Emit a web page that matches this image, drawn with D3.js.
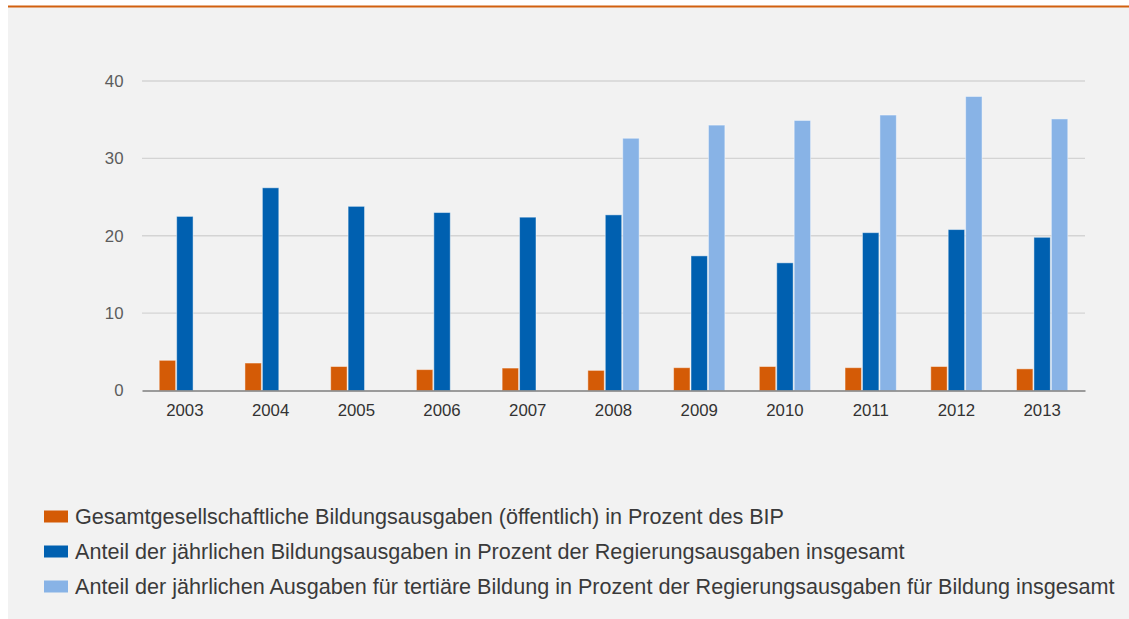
<!DOCTYPE html>
<html>
<head>
<meta charset="utf-8">
<script src="https://cdn.jsdelivr.net/npm/d3@7"></script>
<style>
  body { margin: 0; background: #fff; }
  svg { display: block; font-family: "Liberation Sans", Arial, sans-serif; }
</style>
</head>
<body>
<svg id="chart"></svg>
<script>
var years = ["2003", "2004", "2005", "2006", "2007", "2008", "2009", "2010", "2011", "2012", "2013"]
var bipShare = [3.9, 3.55, 3.1, 2.7, 2.9, 2.6, 2.95, 3.1, 2.95, 3.1, 2.8]
var govShare = [22.5, 26.2, 23.8, 23.0, 22.4, 22.7, 17.4, 16.5, 20.4, 20.8, 19.8]
var tertShare = [0, 0, 0, 0, 0, 32.6, 34.3, 34.9, 35.6, 38.0, 35.1]
var yTicks = [0, 10, 20, 30, 40]
var seriesNames = [
  "Gesamtgesellschaftliche Bildungsausgaben (öffentlich) in Prozent des BIP",
  "Anteil der jährlichen Bildungsausgaben in Prozent der Regierungsausgaben insgesamt",
  "Anteil der jährlichen Ausgaben für tertiäre Bildung in Prozent der Regierungsausgaben für Bildung insgesamt"
]
var colors = ["#d45b06", "#0060b0", "#88b3e6"]

var width = 1129, height = 619
var svg = d3.select("#chart").attr("width", width).attr("height", height)

// panel background + orange top rule
svg.append("rect").attr("x", 8).attr("y", 7).attr("width", width - 8).attr("height", height - 7).attr("fill", "#f2f2f2")
svg.append("rect").attr("x", 8).attr("y", 5.5).attr("width", width - 8).attr("height", 2).attr("fill", "#d2600f")

var plot = { left: 142, right: 1085, top: 81, bottom: 390.5 }

var x = d3.scaleBand().domain(years).range([plot.left, plot.right]).paddingInner(0.39).paddingOuter(0.195)
var keys = ["bip", "gov", "tert"]
var x1 = d3.scaleBand().domain(keys).range([0, x.bandwidth()])
var y = d3.scaleLinear().domain([0, 40]).range([plot.bottom, plot.top])

// gridlines
svg.append("g")
  .selectAll("line")
  .data(yTicks.filter(function(d) { return d > 0 }))
  .enter()
  .append("line")
  .attr("x1", plot.left).attr("x2", plot.right)
  .attr("y1", function(d) { return y(d) }).attr("y2", function(d) { return y(d) })
  .attr("stroke", "#d4d4d4").attr("stroke-width", 1.3)

// y axis labels
var yAxis = svg.append("g")
  .attr("transform", "translate(" + plot.left + ",0)")
  .call(d3.axisLeft(y).tickValues(yTicks).tickSize(0).tickPadding(18.5))
yAxis.select(".domain").remove()
yAxis.selectAll("text").attr("font-size", 16.8).attr("fill", "#5c5c5c").attr("font-family", "Liberation Sans, Arial, sans-serif")

var rows = years.map(function(yr, i) {
  return { year: yr, values: [
    { key: "bip", value: bipShare[i], color: colors[0] },
    { key: "gov", value: govShare[i], color: colors[1] },
    { key: "tert", value: tertShare[i], color: colors[2] }
  ] }
})

svg.append("g")
  .selectAll("g")
  .data(rows)
  .enter()
  .append("g")
  .attr("transform", function(d) { return "translate(" + x(d.year) + ",0)" })
  .selectAll("rect")
  .data(function(d) { return d.values })
  .enter()
  .append("rect")
  .attr("x", function(d) { return x1(d.key) + 0.5 })
  .attr("y", function(d) { return y(d.value) })
  .attr("width", x1.bandwidth() - 1)
  .attr("height", function(d) { return y(0) - y(d.value) })
  .attr("fill", function(d) { return d.color })
  .attr("stroke", "rgba(255,255,255,0.45)")
  .attr("stroke-width", 1)

// x axis
var xAxis = svg.append("g")
  .attr("transform", "translate(0," + plot.bottom + ")")
  .call(d3.axisBottom(x).tickSize(0).tickPadding(14))
xAxis.select(".domain").attr("stroke", "#444").attr("stroke-width", 1.2)
xAxis.selectAll("text").attr("font-size", 16.8).attr("fill", "#333").attr("font-family", "Liberation Sans, Arial, sans-serif")

// legend
var legend = svg.append("g")
  .selectAll("g")
  .data(seriesNames)
  .enter()
  .append("g")
  .attr("transform", function(d, i) { return "translate(44," + (516.5 + i * 35) + ")" })
legend.append("rect")
  .attr("x", 0).attr("y", -6).attr("width", 24).attr("height", 12)
  .attr("fill", function(d, i) { return colors[i] })
legend.append("text")
  .attr("x", 31).attr("dy", "0.35em")
  .attr("font-size", 21.6).attr("fill", "#3a3a3a")
  .text(function(d) { return d })
</script>
</body>
</html>
